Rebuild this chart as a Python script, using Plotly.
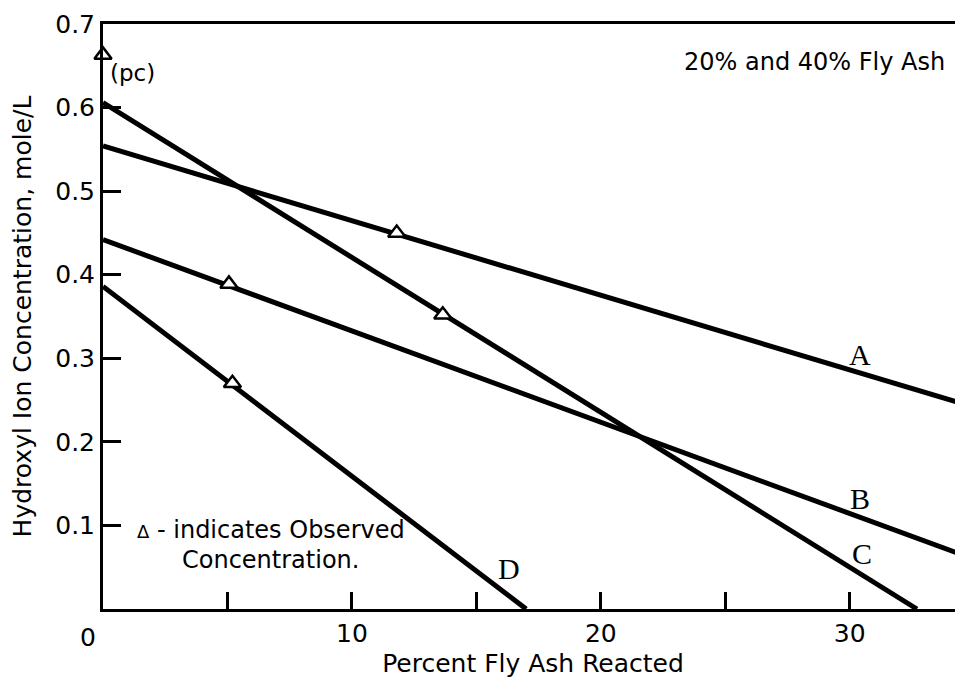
"""Hydroxyl ion concentration vs percent fly ash reacted"""
import plotly.graph_objects as go

# lines A-D (end points)
line_names = ["A", "B", "C", "D"]
line_x = [[0, 34.6], [0, 34.6], [0, 32.7], [0, 17.0]]
line_y = [[0.554, 0.245], [0.442, 0.064], [0.606, 0.0], [0.386, 0.0]]

# observed concentrations (triangles)
obs_x = [11.8, 5.06, 13.65, 5.2, 0.0]
obs_y = [0.450, 0.389, 0.352, 0.270, 0.663]

# label positions for the line letters
label_x = [30.4, 30.4, 30.5, 16.3]
label_y = [0.305, 0.132, 0.066, 0.049]

x_ticks = [10, 20, 30]
y_ticks = [0.1, 0.2, 0.3, 0.4, 0.5, 0.6, 0.7]

SANS = "DejaVu Sans"
SERIF = "Liberation Serif"

fig = go.Figure()
for name, xs, ys in zip(line_names, line_x, line_y):
    fig.add_trace(go.Scatter(
        x=xs, y=ys, name=name, mode="lines",
        line=dict(color="black", width=5),
    ))
fig.add_trace(go.Scatter(
    x=obs_x, y=obs_y, mode="markers", name="Observed",
    marker=dict(symbol="triangle-up", size=15, color="white",
                line=dict(color="black", width=2.5)),
    cliponaxis=False,
))

annotations = []
for name, lx, ly in zip(line_names, label_x, label_y):
    annotations.append(dict(x=lx, y=ly, text=name, showarrow=False,
                            font=dict(family=SERIF, size=30, color="black")))
annotations += [
    dict(x=28.6, y=0.654, text="20% and 40% Fly Ash", showarrow=False,
         font=dict(family=SANS, size=24, color="black")),
    dict(x=0.2, y=0.641, text="(pc)", showarrow=False, xanchor="left",
         font=dict(family=SANS, size=23, color="black")),
    dict(x=1.29, y=0.095, text="<span style='font-size:18px'>Δ</span> - indicates Observed",
         showarrow=False, xanchor="left",
         font=dict(family=SANS, size=24, color="black")),
    dict(x=3.1, y=0.059, text="Concentration.", showarrow=False, xanchor="left",
         font=dict(family=SANS, size=24, color="black")),
    dict(x=0, y=0, text="0", showarrow=False, xanchor="center", yanchor="top",
         xshift=-15, yshift=-12,
         font=dict(family=SANS, size=25, color="black")),
]

# page body keeps an 8px margin, so the figure is 8px smaller and margins shifted
fig.update_layout(
    width=955, height=673,
    margin=dict(l=95, r=0, t=16, b=72),
    paper_bgcolor="white", plot_bgcolor="white",
    showlegend=False,
    font=dict(family=SANS, size=25, color="black"),
    annotations=annotations,
    xaxis=dict(
        range=[0, 34.55], showgrid=False, zeroline=False,
        showline=True, linecolor="black", linewidth=3, mirror=True,
        tickvals=x_ticks, ticks="inside", ticklen=17, tickwidth=2.5, tickcolor="black",
        minor=dict(dtick=5, tick0=0, ticks="inside", ticklen=17, tickwidth=2.5, tickcolor="black"),
        title=dict(text="Percent Fly Ash Reacted", standoff=8, font=dict(size=25)),
    ),
    yaxis=dict(
        range=[0, 0.7], showgrid=False, zeroline=False,
        showline=True, linecolor="black", linewidth=3,
        tickvals=y_ticks, tickformat=".1f",
        ticks="inside", ticklen=18, tickwidth=2.5, tickcolor="black",
        title=dict(text="Hydroxyl Ion Concentration, mole/L", standoff=18, font=dict(size=25)),
    ),
)

fig.write_html("out.html")
